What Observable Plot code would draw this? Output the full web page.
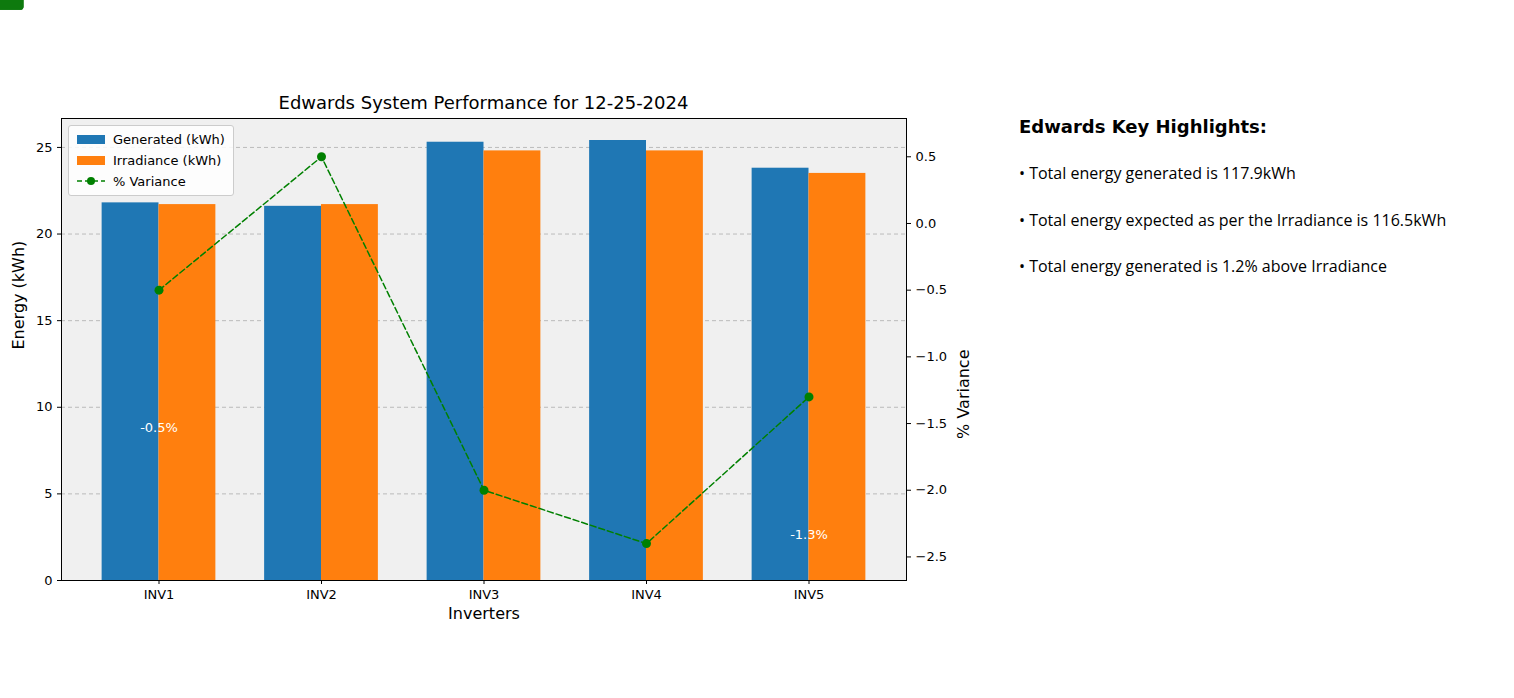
<!DOCTYPE html>
<html><head><meta charset="utf-8">
<script src="https://cdn.jsdelivr.net/npm/d3@7"></script>
<script src="https://cdn.jsdelivr.net/npm/@observablehq/plot@0.6"></script>
<style>
body{margin:0;font-family:"DejaVu Sans",sans-serif;background:#fff}
#wrap{position:relative;width:1514px;height:698px}
.abs{position:absolute;white-space:nowrap}
</style></head><body>
<div id="wrap">
  <div id="chart" class="abs" style="left:0;top:0"></div>
  <div class="abs" style="left:61px;width:845px;top:92px;text-align:center;font-size:18px">Edwards System Performance for 12-25-2024</div>
  <div class="abs" style="left:68px;top:125px;border:1px solid #ccc;background:rgba(255,255,255,0.85);border-radius:3px;padding:3px 8px;font-size:13px;line-height:21px">
    <div><span style="display:inline-block;width:28px;height:9px;background:#1f77b4;margin-right:8px"></span>Generated (kWh)</div>
    <div><span style="display:inline-block;width:28px;height:9px;background:#ff7f0e;margin-right:8px"></span>Irradiance (kWh)</div>
    <div><svg width="28" height="10" style="margin-right:8px"><line x1="0" x2="28" y1="5" y2="5" stroke="green" stroke-dasharray="5,3" stroke-width="1.5"/><circle cx="14" cy="5" r="4" fill="green"/></svg>% Variance</div>
  </div>
  <div class="abs" style="left:1019px;top:116px;font-size:18px;font-weight:bold">Edwards Key Highlights:</div>
  <div class="abs" style="left:1019px;top:162px;font-size:16px;font-family:'Open Sans',sans-serif">• Total energy generated is 117.9kWh</div>
  <div class="abs" style="left:1019px;top:209px;font-size:16px;font-family:'Open Sans',sans-serif">• Total energy expected as per the Irradiance is 116.5kWh</div>
  <div class="abs" style="left:1019px;top:255px;font-size:16px;font-family:'Open Sans',sans-serif">• Total energy generated is 1.2% above Irradiance</div>
</div>
<script>
const inverters = ["INV1", "INV2", "INV3", "INV4", "INV5"];
const generated = [21.8, 21.6, 25.3, 25.4, 23.8];
const irradiance = [21.7, 21.7, 24.8, 24.8, 23.5];
const variance = [-0.5, 0.5, -2.0, -2.4, -1.3];
// annotation positions (in energy units) as placed in the original
const labelPos = [8.8, 32.6, -2.8, -5.8, 2.65];
const labelFill = ["#0e7a0e", "#2e8b2e", "#2e8b2e", "#2e8b2e", "#0e7a0e"];
const leftTicks = [0, 5, 10, 15, 20, 25];
const rightTicks = [0.5, 0, -0.5, -1, -1.5, -2, -2.5];

// right axis mapped onto left units
const v2e = v => 20.61 + 7.70 * v;

const rows = inverters.map((n, i) => ({n, i, g: generated[i], r: irradiance[i], v: variance[i], ve: v2e(variance[i]), lp: labelPos[i], lf: labelFill[i]}));

const chart = Plot.plot({
  width: 1000, height: 698,
  marginLeft: 61, marginRight: 94, marginTop: 118, marginBottom: 118,
  style: {fontSize: "13px", fontFamily: "DejaVu Sans, sans-serif", overflow: "visible"},
  x: {domain: [-0.6, 4.6], axis: null},
  y: {domain: [0, 26.67], axis: null},
  marks: [
    Plot.frame({fill: "#f0f0f0"}),
    Plot.ruleY(leftTicks.slice(1), {stroke: "#bbb", strokeDasharray: "4,3"}),
    Plot.rectY(rows, {x1: d => d.i - 0.35, x2: d => d.i, y: "g", fill: "#1f77b4"}),
    Plot.rectY(rows, {x1: d => d.i, x2: d => d.i + 0.35, y: "r", fill: "#ff7f0e"}),
    Plot.line(rows, {x: "i", y: "ve", stroke: "green", strokeWidth: 1.5, strokeDasharray: "6,3"}),
    Plot.dot(rows, {x: "i", y: "ve", r: 4.5, fill: "green"}),
    Plot.frame({stroke: "black"}),
    Plot.axisY(leftTicks, {anchor: "left", tickSize: 4, label: null}),
    Plot.axisY(rightTicks.map(v2e), {anchor: "right", tickSize: 4, label: null, tickFormat: e => { const v = Math.round((e - 20.61) / 7.70 * 10) / 10; return (v < 0 ? "−" : "") + Math.abs(v).toFixed(1); }}),
    Plot.axisX([0, 1, 2, 3, 4], {tickSize: 4, label: null, tickFormat: i => inverters[i]}),
    Plot.text(["Energy (kWh)"], {frameAnchor: "left", rotate: -90, dx: -43, fontSize: 16}),
    Plot.text(["% Variance"], {frameAnchor: "right", rotate: -90, dx: 57, fontSize: 16}),
    Plot.text(["Inverters"], {frameAnchor: "bottom", dy: 38, fontSize: 16}),
    Plot.text(rows, {x: "i", y: "lp", text: d => (d.v > 0 ? "" : "-") + Math.abs(d.v).toFixed(1) + "%", fill: "white", className: "ann"})
  ]
});
d3.select("#chart").append(() => chart);
// rounded boxes behind annotations
d3.select(chart).selectAll(".ann text").each(function(_, k) {
  const b = this.getBBox();
  d3.select(this.parentNode).insert("rect", () => this)
    .attr("x", b.x - 4).attr("y", b.y - 2).attr("width", b.width + 8).attr("height", b.height + 4)
    .attr("rx", 3).attr("fill", labelFill[k]);
});
</script>
</body></html>
